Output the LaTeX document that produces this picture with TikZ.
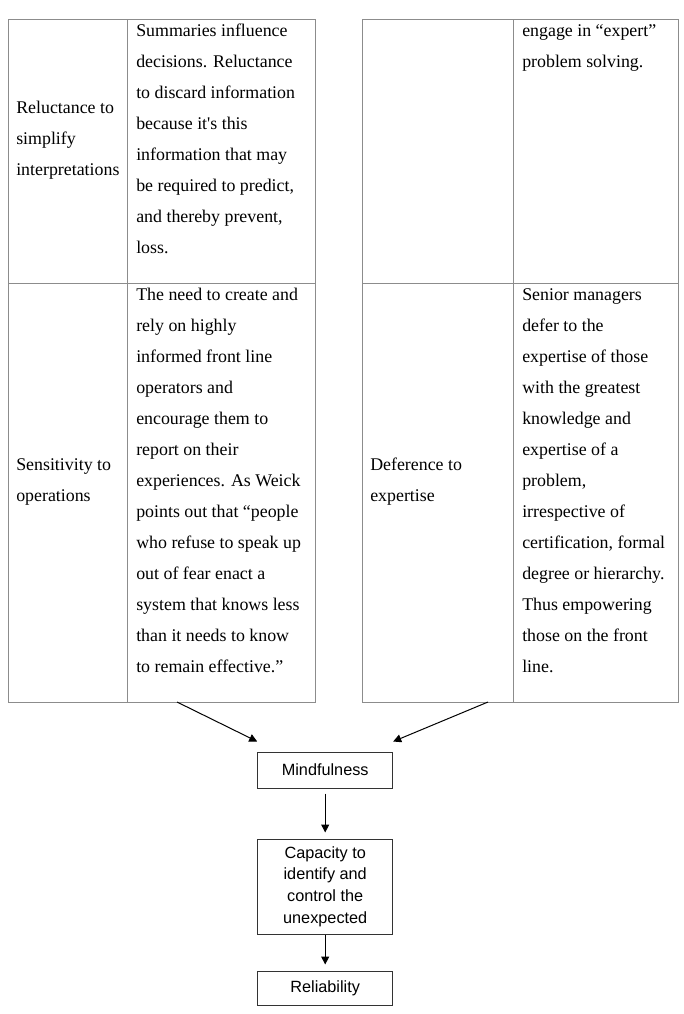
\documentclass[tikz,border=0pt]{standalone}
\usepackage{fontspec}
\setmainfont{Liberation Serif}
\newfontfamily\arialfont{Liberation Sans}
\usetikzlibrary{arrows.meta}

\begin{document}
\begin{tikzpicture}[x=.75pt,y=-.75pt,
    grid/.style={draw=black!45,line width=.75pt},
    tabtext/.style={font=\fontsize{13.4}{23.25}\selectfont,align=left,anchor=base west,inner sep=0pt},
    flowbox/.style={draw=black!80,line width=.75pt,minimum width=101.25pt,inner sep=0pt,
        font=\arialfont\fontsize{12.2}{16.25}\selectfont,align=center},
    flowarrow/.style={-{Triangle[length=6pt,width=6pt]},line width=.75pt}]
    \useasboundingbox (0,0) rectangle (684,1014);

    %% left table
    \draw[grid] (8,19) rectangle (315,702);
    \draw[grid] (8,283) -- (315,283);
    \draw[grid] (127.5,19) -- (127.5,702);

    %% right table
    \draw[grid] (362,19) rectangle (678,702);
    \draw[grid] (362,283) -- (678,283);
    \draw[grid] (513,19) -- (513,702);

    %% left table, top row (base = last line)
    \node[tabtext] (simp) at (16,175) {Reluctance to\\simplify\\interpretations};
    \node[tabtext] (simpdesc) at (136,253) {Summaries influence\\decisions. Reluctance\\to discard information\\because it\textquotesingle s this\\information that may\\be required to predict,\\and thereby prevent,\\loss.};

    %% left table, bottom row
    \node[tabtext] (sens) at (16,501) {Sensitivity to\\operations};
    \node[tabtext] (sensdesc) at (136,672) {The need to create and\\rely on highly\\informed front line\\operators and\\encourage them to\\report on their\\experiences. As Weick\\points out that “people\\who refuse to speak up\\out of fear enact a\\system that knows less\\than it needs to know\\to remain effective.”};

    %% right table, top row
    \node[tabtext] (expdesc) at (522,67) {engage in “expert”\\problem solving.};

    %% right table, bottom row
    \node[tabtext] (defer) at (370,501) {Deference to\\expertise};
    \node[tabtext] (deferdesc) at (522,672) {Senior managers\\defer to the\\expertise of those\\with the greatest\\knowledge and\\expertise of a\\problem,\\irrespective of\\certification, formal\\degree or hierarchy.\\Thus empowering\\those on the front\\line.};

    %% flow below
    \node[flowbox,minimum height=27pt] (mind) at (325.2,770) {Mindfulness};
    \node[flowbox,minimum height=71.25pt] (cap) at (325.2,886.5) {Capacity to\\identify and\\control the\\unexpected};
    \node[flowbox,minimum height=25.5pt] (rel) at (325.2,988) {Reliability};

    \coordinate (lfoot) at (177,702);
    \coordinate (rfoot) at (488,702);
    \draw[flowarrow] (lfoot) -- ([yshift=7.5pt]mind.north west);
    \draw[flowarrow] (rfoot) -- ([yshift=7.5pt]mind.north east);
    \draw[flowarrow,shorten <=3.75pt,shorten >=4.5pt] (mind) -- (cap);
    \draw[flowarrow,shorten >=4.5pt] (cap) -- (rel);
\end{tikzpicture}
\end{document}
